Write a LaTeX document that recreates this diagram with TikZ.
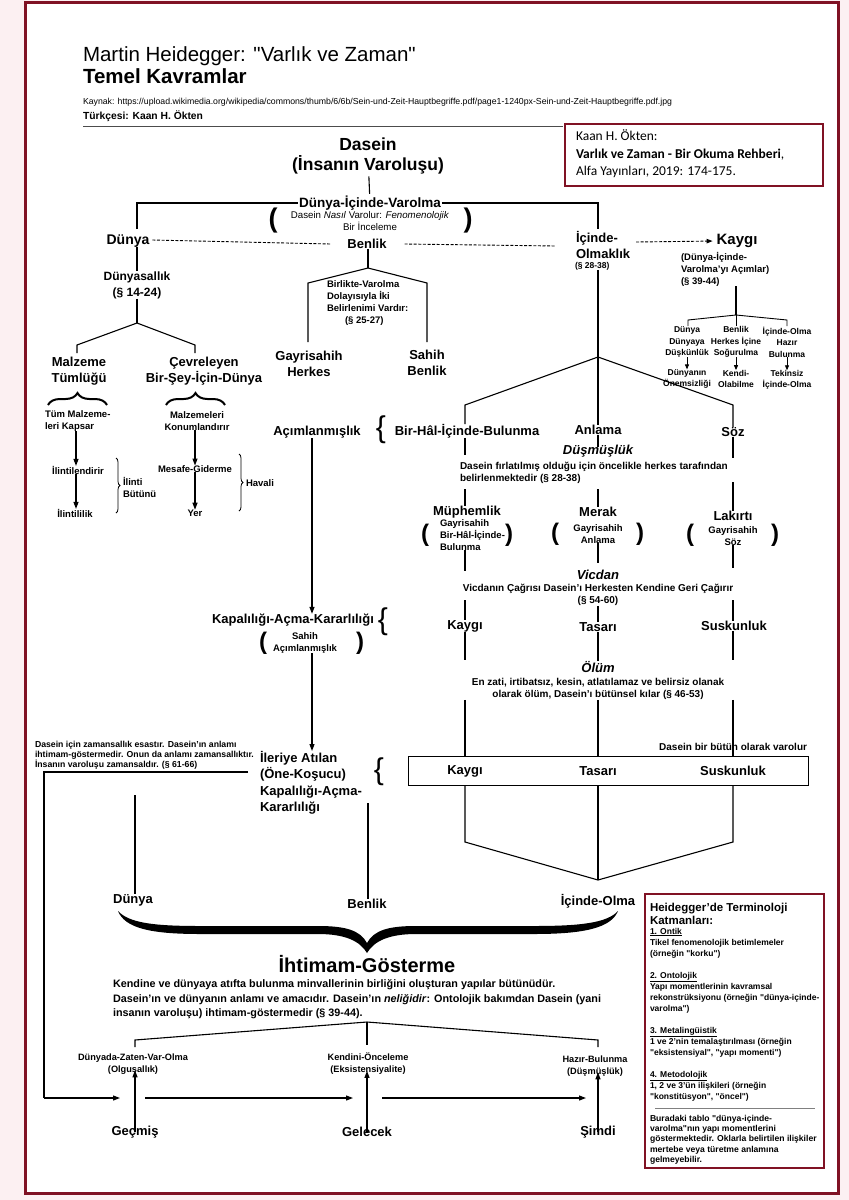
\documentclass[tikz,border=0pt]{standalone}
\usepackage{fontspec}
\setmainfont{Liberation Sans}
\newfontfamily\calibfont{Carlito}
\usetikzlibrary{arrows.meta,decorations.pathreplacing}
\definecolor{framered}{RGB}{128,18,36}
\definecolor{pinkbg}{RGB}{252,240,242}
\newcommand{\myfs}[2]{\fontsize{#1}{#2}\selectfont}
\newcommand{\dq}{\textquotedbl}
\begin{document}
\begin{tikzpicture}[x=1pt,y=-1pt,
  every node/.style={inner sep=0pt,outer sep=0pt},
  big/.style={font=\myfs{17.5}{20.5}\bfseries,align=center},
  lbl/.style={font=\myfs{13}{15.5}\bfseries,align=center},
  mid/.style={font=\myfs{12}{16}\bfseries,align=center},
  desc/.style={font=\myfs{10}{12.5}\bfseries,align=center},
  sm/.style={font=\myfs{9.5}{12}\bfseries,align=center},
  xs/.style={font=\myfs{8.5}{11.5}\bfseries,align=center},
  ital/.style={font=\myfs{13}{15}\bfseries\itshape,align=center},
  paren/.style={font=\myfs{24}{24}\bfseries},
  curl/.style={font=\myfs{30}{30}},
  ln/.style={line width=1.1pt},
  arr/.style={line width=1.1pt,-{Triangle[length=7pt,width=5pt]}},
  sarr/.style={line width=0.9pt,-{Triangle[length=5pt,width=4pt]}},
  dsh/.style={line width=0.9pt,dash pattern=on 3pt off 1.6pt},
  brc/.style={decorate,decoration={brace,amplitude=#1}},
]
\useasboundingbox (0,0) rectangle (849,1200);
\fill[pinkbg] (0,0) rectangle (849,1200);
\fill[white] (25,2) rectangle (838,1193);
\draw[framered,line width=3pt] (25,2) rectangle (838,1193);

% header
\node[anchor=base west,font=\myfs{20.5}{24}] (title) at (83,61) {Martin Heidegger: \dq Varlık ve Zaman\dq};
\node[anchor=base west,font=\myfs{20.5}{24}\bfseries] (subtitle) at (83,83) {Temel Kavramlar};
\node[anchor=base west] (src) at (83,104) {\resizebox{589pt}{!}{\myfs{8}{9}Kaynak: https://upload.wikimedia.org/wikipedia/commons/thumb/6/6b/Sein-und-Zeit-Hauptbegriffe.pdf/page1-1240px-Sein-und-Zeit-Hauptbegriffe.pdf.jpg}};
\node[anchor=base west,font=\myfs{10.3}{12}\bfseries] (tr) at (83,119) {Türkçesi: Kaan H. Ökten};
\draw[line width=0.8pt,black!70] (83,126) -- (563,126);

\draw[framered,line width=2.5pt] (565,124) rectangle (823,186);
\node[anchor=north west,font=\calibfont\myfs{13.5}{17.5},align=left] (ref) at (576,130) {Kaan H. Ökten:\\\textbf{Varlık ve Zaman - Bir Okuma Rehberi},\\Alfa Yayınları, 2019: 174-175.};

% top
\node[big] (dasein) at (368,156) {Dasein\\(İnsanın Varoluşu)};
\node[lbl,font=\myfs{13.5}{16}\bfseries] (div) at (370,203) {Dünya-İçinde-Varolma};
\draw[ln,shorten <=2pt,shorten >=2pt] (dasein) -- (div);
\coordinate (dw) at (137,229);
\coordinate (ie) at (598,229);
\draw[ln] (dw) |- ([xshift=-1pt]div.west);
\draw[ln] ([xshift=1pt]div.east) -| (ie);
\node[paren,font=\myfs{27}{27}\bfseries] (p1) at (273,221) {(};
\node[paren,font=\myfs{27}{27}\bfseries] (p2) at (468,221) {)};
\node[font=\myfs{9.7}{12.5},align=center] (how) at (370,221) {Dasein \textit{Nasıl} Varolur: \textit{Fenomenolojik}\\Bir İnceleme};

\node[lbl,font=\myfs{14}{16}\bfseries] (dunya) at (128,241) {Dünya};
\node[lbl] (benlik) at (367,244) {Benlik};
\node[lbl,align=left,anchor=west] (icol) at (576,245) {İçinde-\\Olmaklık};
\node[xs,anchor=north west] (icolp) at (575,262) {(§ 28-38)};
\draw[dsh] ([xshift=3pt,yshift=1pt]dunya.east) -- ([xshift=-17pt]benlik.west);
\draw[dsh] ([xshift=18pt]benlik.east) -- ([xshift=-20pt,yshift=-1pt]icol.west);
\node[lbl,font=\myfs{15}{17}\bfseries] (kaygi) at (737,241) {Kaygı};
\draw[dsh,-{Triangle[length=6pt,width=4.5pt]},shorten >=4pt] (636,242) -- (kaygi.west);
\node[sm,align=left,anchor=north west] (kaygisub) at (681,252) {(Dünya-İçinde-\\Varolma'yı Açımlar)\\(§ 39-44)};

% Kaygi subtree
\coordinate (kr) at (736,315);
\draw[ln] (kaygisub.south -| kr) -- (kr);
\draw[line width=0.9pt] (688,326) -- (688,320) -- (kr) -- (787,320) -- (787,326);
\draw[line width=0.9pt] (kr) -- (736,326);
\node[xs] (k1) at (687,342) {Dünya\\Dünyaya\\Düşkünlük};
\node[xs] (k2) at (736,342) {Benlik\\Herkes İçine\\Soğurulma};
\node[xs] (k3) at (787,342) {İçinde-Olma\\Hazır\\Bulunma};
\node[xs] (k4) at (687,379) {Dünyanın\\Önemsizliği};
\node[xs] (k5) at (736,379) {Kendi-\\Olabilme};
\node[xs] (k6) at (787,380) {Tekinsiz\\İçinde-Olma};
\draw[sarr] (k1.south) -- (k4.north);
\draw[sarr] (k2.south) -- (k5.north);
\draw[sarr] (k3.south) -- (k6.north);

% Dunya subtree
\node[mid] (dsal) at (137,285) {Dünyasallık\\(§ 14-24)};
\draw[ln] (dunya.south -| 137,0) -- (dsal.north -| 137,0);
\coordinate (r1) at (137,323);
\draw[ln] (dsal.south -| r1) -- (r1);
\draw[ln] (77,353) -- (77,345) -- (r1) -- (195,345) -- (195,353);
\node[lbl] (malz) at (79,371) {Malzeme\\Tümlüğü};
\node[lbl] (cevr) at (204,371) {Çevreleyen\\Bir-Şey-İçin-Dünya};
\draw[brc=12pt,line width=2pt] (48,405) -- (107,405);
\draw[brc=12pt,line width=2pt] (166,405) -- (225,405);
\node[sm,align=left,anchor=west] (tum) at (45,421) {Tüm Malzeme-\\leri Kapsar};
\node[sm] (mk) at (197,421) {Malzemeleri\\Konumlandırır};
\node[sm] (ilint) at (78,470) {İlintilendirir};
\node[sm] (mesa) at (195,469) {Mesafe-Giderme};
\node[sm] (ilinl) at (75,513) {İlintililik};
\node[sm] (yer) at (195,513) {Yer};
\draw[arr] (tum.south -| 76,0) -- (ilint.north -| 76,0);
\draw[arr] (mk.south -| 195,0) -- (mesa.north -| 195,0);
\draw[arr] (ilint.south -| 76,0) -- (ilinl.north -| 76,0);
\draw[arr] (mesa.south -| 195,0) -- (yer.north -| 195,0);
\draw[brc=4pt,line width=0.8pt] (116,458) -- (116,513);
\node[sm,align=left,anchor=west] (ilbut) at (123,487) {İlinti\\Bütünü};
\draw[brc=4pt,line width=0.8pt] (239,454) -- (239,511);
\node[sm,anchor=west] (hav) at (246,483) {Havali};

% Benlik subtree
\coordinate (r2) at (368,268);
\draw[ln] (benlik.south -| r2) -- (r2);
\draw[ln] (308,342) -- (308,283) -- (r2) -- (427,283) -- (427,342);
\node[sm,align=left,anchor=north west] (birl) at (327,281) {Birlikte-Varolma\\Dolayısıyla İki\\Belirlenimi Vardır:\\\hspace*{18pt}(§ 25-27)};
\node[lbl] (gayh) at (309,364) {Gayrisahih\\Herkes};
\node[lbl] (sahb) at (427,363) {Sahih\\Benlik};

% Icinde-Olmaklik subtree
\coordinate (j1) at (598,357);
\coordinate (jl) at (465,405);
\coordinate (jr) at (733,405);
\draw[ln] (icolp.south -| j1) -- (j1);
\node[lbl] (acim) at (317,432) {Açımlanmışlık};
\node[curl] (cb1) at (381,430) {\{};
\node[lbl] (bhb) at (467,431) {Bir-Hâl-İçinde-Bulunma};
\node[lbl] (anl) at (598,430) {Anlama};
\node[lbl] (soz) at (733,432) {Söz};
\draw[ln] (j1) -- (jl) -- (bhb.north -| jl);
\draw[ln] (j1) -- (jr) -- (soz.north -| jr);
\draw[ln] (j1) -- (anl.north);

\node[ital] (dus) at (598,451) {Düşmüşlük};
\node[desc,align=left,anchor=north west] (dusd) at (460,462) {Dasein fırlatılmış olduğu için öncelikle herkes tarafından\\belirlenmektedir (§ 28-38)};
\draw[ln] (bhb.south -| jl) -- (465,455);
\draw[ln] (anl.south) -- (598,447);
\draw[ln] (soz.south -| jr) -- (733,458);

\node[lbl] (muph) at (467,512) {Müphemlik};
\node[sm,align=left,anchor=west] (muphd) at (440,535) {Gayrisahih\\Bir-Hâl-İçinde-\\Bulunma};
\node[paren] at (425,535) {(};
\node[paren] at (509,535) {)};
\node[lbl] (merak) at (598,512) {Merak};
\node[sm] (merakd) at (598,534) {Gayrisahih\\Anlama};
\node[paren] at (555,534) {(};
\node[paren] at (640,534) {)};
\node[lbl] (lak) at (733,516) {Lakırtı};
\node[sm] (lakd) at (733,536) {Gayrisahih\\Söz};
\node[paren] at (690,535) {(};
\node[paren] at (775,535) {)};
\draw[ln] (465,489) -- (muph.north -| jl);
\draw[ln] (598,489) -- (merak.north);
\draw[ln] (733,482) -- (lak.north -| jr);

\node[ital] (vic) at (598,575) {Vicdan};
\node[desc] (vicd) at (598,595) {Vicdanın Çağrısı Dasein'ı Herkesten Kendine Geri Çağırır\\(§ 54-60)};
\draw[ln] (muphd.south -| jl) -- (465,571);
\draw[ln] (merakd.south) -- (598,563);
\draw[ln] (lakd.south -| jr) -- (733,568);

\node[lbl] (kay2) at (465,626) {Kaygı};
\node[lbl] (tas) at (598,627) {Tasarı};
\node[lbl] (susk) at (734,626) {Suskunluk};
\draw[ln] (465,600) -- (kay2.north);
\draw[ln] (vicd.south) -- (tas.north);
\draw[ln] (733,600) -- (susk.north -| jr);

\node[ital] (olum) at (598,667) {Ölüm};
\node[desc] (olumd) at (598,689) {En zati, irtibatsız, kesin, atlatılamaz ve belirsiz olanak\\olarak ölüm, Dasein'ı bütünsel kılar (§ 46-53)};
\draw[ln] (kay2.south) -- (465,660);
\draw[ln] (tas.south) -- (olum.north);
\draw[ln] (susk.south -| jr) -- (733,660);

\node[draw,line width=1pt,minimum width=400pt,minimum height=29pt] (bbox) at (608,771) {};
\node[lbl] (bk) at (465,771) {Kaygı};
\node[lbl] (bt) at (598,771) {Tasarı};
\node[lbl] (bs) at (733,771) {Suskunluk};
\node[desc,anchor=east] (bbt) at (807,747) {Dasein bir bütün olarak varolur};
\draw[ln] (olumd.south -| jl) -- (bbox.north -| jl);
\draw[ln] (olumd.south) -- (bbox.north -| olumd.south);
\draw[ln] (olumd.south -| jr) -- (bbox.north -| jr);

\coordinate (conv) at (598,880);
\draw[ln] (bbox.south -| jl) -- (465,842) -- (conv);
\draw[ln] (bbox.south -| jr) -- (733,842) -- (conv);
\draw[ln] (bbox.south -| conv) -- (conv);
\node[lbl] (iol) at (598,901) {İçinde-Olma};

% middle column
\node[lbl] (kap) at (293,620) {Kapalılığı-Açma-Kararlılığı};
\node[curl] (cb2) at (383,622) {\{};
\node[sm] (sahih) at (305,643) {Sahih\\Açımlanmışlık};
\node[paren] at (263,643) {(};
\node[paren] at (360,643) {)};
\draw[arr] (acim.south -| 312,0) -- (kap.north -| 312,0);
\node[lbl,align=left,anchor=north west,font=\myfs{13}{16.5}\bfseries] (ileri) at (260,751) {İleriye Atılan\\(Öne-Koşucu)\\Kapalılığı-Açma-\\Kararlılığı};
\node[curl] (cb3) at (379,772) {\{};
\draw[arr] (sahih.south -| 312,0) -- (ileri.north -| 312,0);

\node[font=\myfs{8.7}{10}\bfseries,align=left,anchor=south west] (zam) at (35,769) {Dasein için zamansallık esastır. Dasein'ın anlamı\\ihtimam-göstermedir. Onun da anlamı zamansallıktır.\\İnsanın varoluşu zamansaldır. (§ 61-66)};

\node[lbl] (dun2) at (133,900) {Dünya};
\node[lbl] (ben2) at (367,904) {Benlik};
\coordinate (dtop) at (135,795);
\coordinate (btop) at (368,803);
\draw[ln] (dtop) -- (dun2.north -| dtop);
\draw[ln] (btop) -- (ben2.north -| btop);

% big brace
\fill (118,911) .. controls (125,928) and (150,934) .. (200,934) -- (318,934) .. controls (345,934) and (360,941) .. (367,953) .. controls (374,941) and (389,934) .. (416,934) -- (534,934) .. controls (584,934) and (611,928) .. (618,911) .. controls (607,923) and (580,926) .. (534,926) -- (416,926) .. controls (389,926) and (374,930) .. (367,943) .. controls (360,930) and (345,926) .. (318,926) -- (200,926) .. controls (154,926) and (129,923) .. (118,911) -- cycle;

\node[font=\myfs{20}{24}\bfseries] (iht) at (367,964) {İhtimam-Gösterme};
\node[align=left,anchor=north west,font=\myfs{10.8}{14.3}\bfseries] (ihtd) at (113,980) {Kendine ve dünyaya atıfta bulunma minvallerinin birliğini oluşturan yapılar bütünüdür.\\Dasein'ın ve dünyanın anlamı ve amacıdır. Dasein'ın \textit{neliğidir}: Ontolojik bakımdan Dasein (yani\\insanın varoluşu) ihtimam-göstermedir (§ 39-44).};

\coordinate (r0) at (367,1022);
\draw[ln] (135,1047) -- (135,1040) -- (r0) -- (598,1040) -- (598,1047);
\draw[ln] (r0) -- (367,1045);
\node[font=\myfs{9.2}{12}\bfseries,align=center] (dzo) at (133,1064) {Dünyada-Zaten-Var-Olma\\(Olgusallık)};
\node[font=\myfs{9.2}{12}\bfseries,align=center] (kon) at (368,1064) {Kendini-Önceleme\\(Eksistensiyalite)};
\node[font=\myfs{9.2}{12}\bfseries,align=center] (hzb) at (595,1066) {Hazır-Bulunma\\(Düşmüşlük)};
\node[lbl] (gec) at (135,1132) {Geçmiş};
\node[lbl] (gel) at (367,1132) {Gelecek};
\node[lbl] (sim) at (598,1132) {Şimdi};
\draw[arr] ([yshift=-6pt]gec.north) -- ([yshift=4pt]dzo.south -| gec.north);
\draw[arr] ([yshift=-6pt]gel.north) -- ([yshift=4pt]kon.south -| gel.north);
\draw[arr] ([yshift=-6pt]sim.north) -- ([yshift=4pt]hzb.south -| sim.north);
\coordinate (lc) at (44,772);
\coordinate (lb) at (44,1098);
\draw[ln] ([xshift=-12pt]ileri.west |- lc) -- (lc) -- (lb);
\draw[arr] (lb) -- (120,1098);
\draw[arr] (145,1098) -- (353,1098);
\draw[arr] (382,1098) -- (586,1098);

% terminology box
\draw[framered,line width=2.5pt] (645,894) rectangle (824,1168);
\node[anchor=north west,align=left,font=\myfs{11.5}{13}\bfseries] (termh) at (650,903) {Heidegger'de Terminoloji\\Katmanları:};
\node[anchor=north west,align=left,font=\myfs{8.5}{11}\bfseries] (termb) at (650,928) {\underline{1. Ontik}\\Tikel fenomenolojik betimlemeler\\(örneğin \dq korku\dq)\\[11pt]\underline{2. Ontolojik}\\Yapı momentlerinin kavramsal\\rekonstrüksiyonu (örneğin \dq dünya-içinde-\\varolma\dq)\\[11pt]\underline{3. Metalingüistik}\\1 ve 2'nin temalaştırılması (örneğin\\\dq eksistensiyal\dq, \dq yapı momenti\dq)\\[11pt]\underline{4. Metodolojik}\\1, 2 ve 3'ün ilişkileri (örneğin\\\dq konstitüsyon\dq, \dq öncel\dq)};
\draw[line width=0.8pt,gray] (655,1108) -- (815,1108);
\node[anchor=north west,align=left,font=\myfs{8.6}{10.3}\bfseries] (termc) at (650,1115) {Buradaki tablo \dq dünya-içinde-\\varolma\dq nın yapı momentlerini\\göstermektedir. Oklarla belirtilen ilişkiler\\mertebe veya türetme anlamına\\gelmeyebilir.};
\end{tikzpicture}
\end{document}
